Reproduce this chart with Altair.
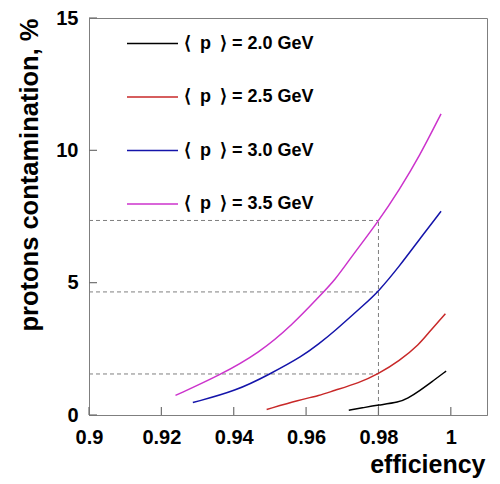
import altair as alt
import pandas as pd

# ---- data ----
labels = ["⟨\u2002p\u2002⟩ = 2.0 GeV", "⟨\u2002p\u2002⟩ = 2.5 GeV",
          "⟨\u2002p\u2002⟩ = 3.0 GeV", "⟨\u2002p\u2002⟩ = 3.5 GeV"]
colors = ["#000000", "#c82828", "#1414aa", "#cc33cc"]

eff_20 = [0.9718, 0.9760, 0.9798, 0.9858, 0.9880, 0.9913, 0.9950, 0.9987]
cont_20 = [0.18, 0.28, 0.37, 0.49, 0.62, 0.91, 1.28, 1.66]

eff_25 = [0.9491, 0.9582, 0.9637, 0.9674, 0.9748, 0.9798, 0.9858, 0.9913, 0.9941, 0.9985]
cont_25 = [0.21, 0.57, 0.74, 0.91, 1.22, 1.54, 2.04, 2.67, 3.15, 3.83]

eff_30 = [0.9287, 0.9407, 0.9499, 0.9591, 0.9637, 0.9674, 0.9766, 0.9798, 0.9858, 0.9913, 0.9973]
cont_30 = [0.47, 0.91, 1.54, 2.23, 2.71, 3.11, 4.24, 4.64, 5.62, 6.63, 7.70]

eff_35 = [0.9239, 0.9361, 0.9471, 0.9563, 0.9637, 0.9681, 0.9720, 0.9800, 0.9858, 0.9913, 0.9973]
cont_35 = [0.74, 1.50, 2.35, 3.42, 4.49, 5.12, 5.88, 7.32, 8.52, 9.77, 11.38]

ref_eff = 0.98
ref_levels = [1.55, 4.65, 7.35]

x_ticks = [0.9, 0.92, 0.94, 0.96, 0.98, 1.0]
y_ticks = [0, 5, 10, 15]
x_domain = [0.9, 1.01]
y_domain = [0, 15]

W, H = 398, 397
TICK = 8
FONT = "Liberation Sans"
GREY = "#7f7f7f"

# ---- tables ----
rows = []
for lab, xs_, ys_ in zip(labels, [eff_20, eff_25, eff_30, eff_35],
                         [cont_20, cont_25, cont_30, cont_35]):
    for x, y in zip(xs_, ys_):
        rows.append({"series": lab, "eff": x, "cont": y})
df = pd.DataFrame(rows)

ref_rows = [{"x0": x_domain[0], "x1": ref_eff, "y0": lv, "y1": lv} for lv in ref_levels]
ref_rows.append({"x0": ref_eff, "x1": ref_eff, "y0": 0, "y1": max(ref_levels)})
ref_df = pd.DataFrame(ref_rows)

# inward tick marks: TICK pixels long, converted to data units of each axis
y_tick_len = TICK / H * (y_domain[1] - y_domain[0])
x_tick_len = TICK / W * (x_domain[1] - x_domain[0])
xt_df = pd.DataFrame({"xt": x_ticks,
                      "y_lo": [y_domain[0]] * len(x_ticks),
                      "y_hi": [y_domain[0] + y_tick_len] * len(x_ticks)})
yt_df = pd.DataFrame({"yt": y_ticks,
                      "x_lo": [x_domain[0]] * len(y_ticks),
                      "x_hi": [x_domain[0] + x_tick_len] * len(y_ticks)})

xs = alt.Scale(domain=x_domain, nice=False, zero=False)
ys = alt.Scale(domain=y_domain, nice=False, zero=True)

x_axis = alt.Axis(values=x_ticks, format="~g", title="efficiency",
                  ticks=False, grid=False, domainColor=GREY,
                  labelFont=FONT, labelFontSize=20, labelFontWeight="bold",
                  labelPadding=12, labelBaseline="top", labelFlush=False,
                  titleFont=FONT, titleFontSize=25, titleFontWeight="bold",
                  titleAnchor="end", titleAlign="right", titleBaseline="alphabetic",
                  titleX=W - 2, titleY=57)
y_axis = alt.Axis(values=y_ticks, title="protons contamination, %",
                  ticks=False, grid=False, domainColor=GREY,
                  labelFont=FONT, labelFontSize=20, labelFontWeight="bold",
                  labelPadding=11, labelFlush=False,
                  titleFont=FONT, titleFontSize=25.5, titleFontWeight="bold",
                  titleAnchor="end", titleAlign="right", titleBaseline="alphabetic",
                  titleAngle=-90, titleX=-52, titleY=0)

refs = alt.Chart(ref_df).mark_rule(color=GREY, strokeWidth=1, strokeDash=[4, 3]).encode(
    x=alt.X("x0:Q", scale=xs, axis=x_axis),
    x2="x1:Q",
    y=alt.Y("y0:Q", scale=ys, axis=y_axis),
    y2="y1:Q",
)

xticks = alt.Chart(xt_df).mark_rule(color="#707070", strokeWidth=1.2).encode(
    x=alt.X("xt:Q", scale=xs),
    y=alt.Y("y_lo:Q", scale=ys),
    y2="y_hi:Q",
)
yticks = alt.Chart(yt_df).mark_rule(color="#707070", strokeWidth=1.2).encode(
    y=alt.Y("yt:Q", scale=ys),
    x=alt.X("x_lo:Q", scale=xs),
    x2="x_hi:Q",
)

curves = alt.Chart(df).mark_line(strokeWidth=1.5, interpolate="basis").encode(
    x=alt.X("eff:Q", scale=xs),
    y=alt.Y("cont:Q", scale=ys),
    color=alt.Color("series:N", scale=alt.Scale(domain=labels, range=colors),
                    legend=alt.Legend(title=None, orient="none", legendX=37, legendY=-1,
                                      symbolType="stroke", symbolSize=2601,
                                      symbolStrokeWidth=1.5, padding=0, rowPadding=17.5,
                                      labelFont=FONT, labelFontSize=18,
                                      labelFontWeight="bold", labelOffset=5,
                                      labelColor="black", labelLimit=400)),
    order=alt.Order("eff:Q"),
)

chart = alt.layer(refs, xticks, yticks, curves).properties(
    width=W, height=H,
    autosize=alt.AutoSizeParams(type="none"),
    padding={"left": 89, "top": 18, "right": 13, "bottom": 69},
    background="white",
).configure_view(stroke=GREY, strokeWidth=1)

chart.save("out.html", embed_options={"renderer": "svg", "actions": False})
